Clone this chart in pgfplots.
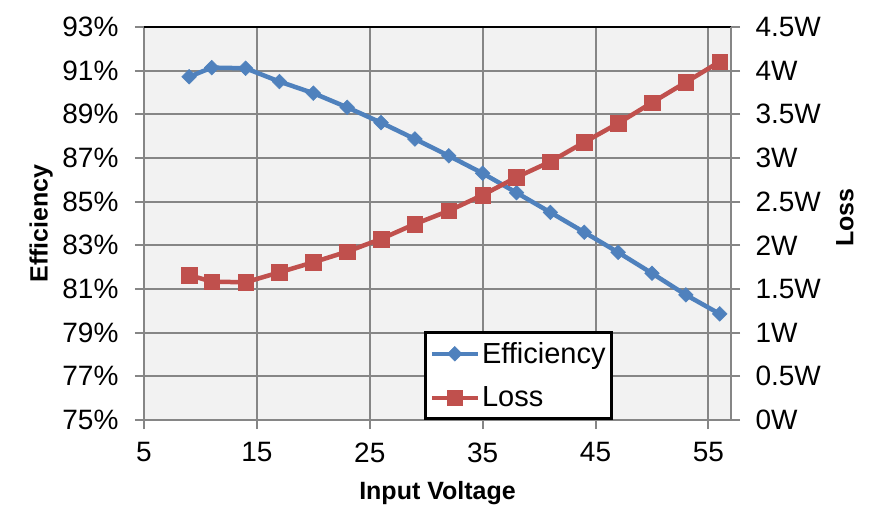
\documentclass[border=0pt]{standalone}
\usepackage{pgfplots}
\pgfplotsset{compat=1.18}
\usepackage{fontspec}
\setmainfont{Liberation Sans}

\definecolor{effblue}{HTML}{4F81BD}
\definecolor{lossred}{HTML}{C0504D}
\definecolor{gridgray}{HTML}{868686}
\definecolor{plotbg}{HTML}{F2F2F2}

\pgfplotsset{
  twin/.style={
    scale only axis, width=587pt, height=393pt,
    xmin=5, xmax=57, xtick={5,15,...,55},
    /pgf/number format/assume math mode=true,
    tick label style={font=\fontsize{28}{33}\selectfont},
    xticklabel style={yshift=-10pt},
    label style={font=\fontsize{25}{30}\selectfont\bfseries},
    tick align=outside, major tick length=9pt,
    every tick/.style={gridgray, line width=2pt},
    axis line style={gridgray, line width=2pt},
    clip=false,
  },
  legend image code/.code={
    \draw[mark repeat=2,mark phase=2,#1]
      plot coordinates {(0pt,0pt) (23pt,0pt) (46pt,0pt)};},
}

\begin{document}
\begin{tikzpicture}
\useasboundingbox (-144pt,-112pt) rectangle (742pt,420pt);
\begin{axis}[twin,
  axis background/.style={fill=plotbg},
  axis x line*=bottom, axis y line*=left,
  ymin=75, ymax=93, ytick={75,77,...,93},
  yticklabel={\pgfmathprintnumber{\tick}\%},
  yticklabel style={xshift=-13pt},
  grid=major, grid style={gridgray, line width=2pt},
  xlabel={Input Voltage}, ylabel={Efficiency},
  xlabel style={at={(axis description cs:0.5,-0.185)}, anchor=center},
  ylabel style={at={(axis description cs:-0.175,0.5)}, anchor=center},
]
\addplot[effblue, line width=4.5pt, mark=square*, mark size=5.2pt,
  mark options={solid, line width=0.5pt, fill=effblue, rotate=45}] coordinates {
  (9,90.72) (11,91.14) (14,91.11) (17,90.50) (20,89.97) (23,89.32)
  (26,88.62) (29,87.87) (32,87.10) (35,86.30) (38,85.41) (41,84.51)
  (44,83.60) (47,82.68) (50,81.72) (53,80.73) (56,79.86)};
\draw[gridgray, line width=2pt] (rel axis cs:1,0) -- (rel axis cs:1,1);
\draw[black, line width=2.5pt] (rel axis cs:0,1) -- (rel axis cs:1,1);
\end{axis}
\begin{axis}[twin,
  axis x line=none, axis y line*=right,
  ymin=0, ymax=4.5, ytick={0,0.5,...,4.5},
  yticklabel={\pgfmathprintnumber{\tick}W},
  yticklabel style={xshift=12pt},
  ylabel={Loss},
  ylabel style={at={(axis description cs:1.194,0.515)}, anchor=center},
  legend style={at={(axis description cs:0.477,0)}, anchor=south west,
    draw=black, line width=3pt, fill=white,
    font=\fontsize{29}{34}\selectfont,
    inner xsep=4pt, inner ysep=8pt, row sep=18pt,
    cells={anchor=west}},
]
\addlegendimage{effblue, line width=4.5pt, mark=square*, mark size=5.2pt,
  mark options={solid, line width=0.5pt, fill=effblue, rotate=45}}
\addlegendentry{Efficiency}
\addplot[lossred, line width=4.5pt, mark=square*, mark size=7.8pt,
  mark options={solid, line width=0.5pt, fill=lossred}] coordinates {
  (9,1.660) (11,1.584) (14,1.577) (17,1.691) (20,1.806) (23,1.928)
  (26,2.073) (29,2.244) (32,2.395) (35,2.576) (38,2.779) (41,2.958)
  (44,3.180) (47,3.397) (50,3.634) (53,3.867) (56,4.103)};
\addlegendentry{Loss}
\end{axis}
\end{tikzpicture}
\end{document}
